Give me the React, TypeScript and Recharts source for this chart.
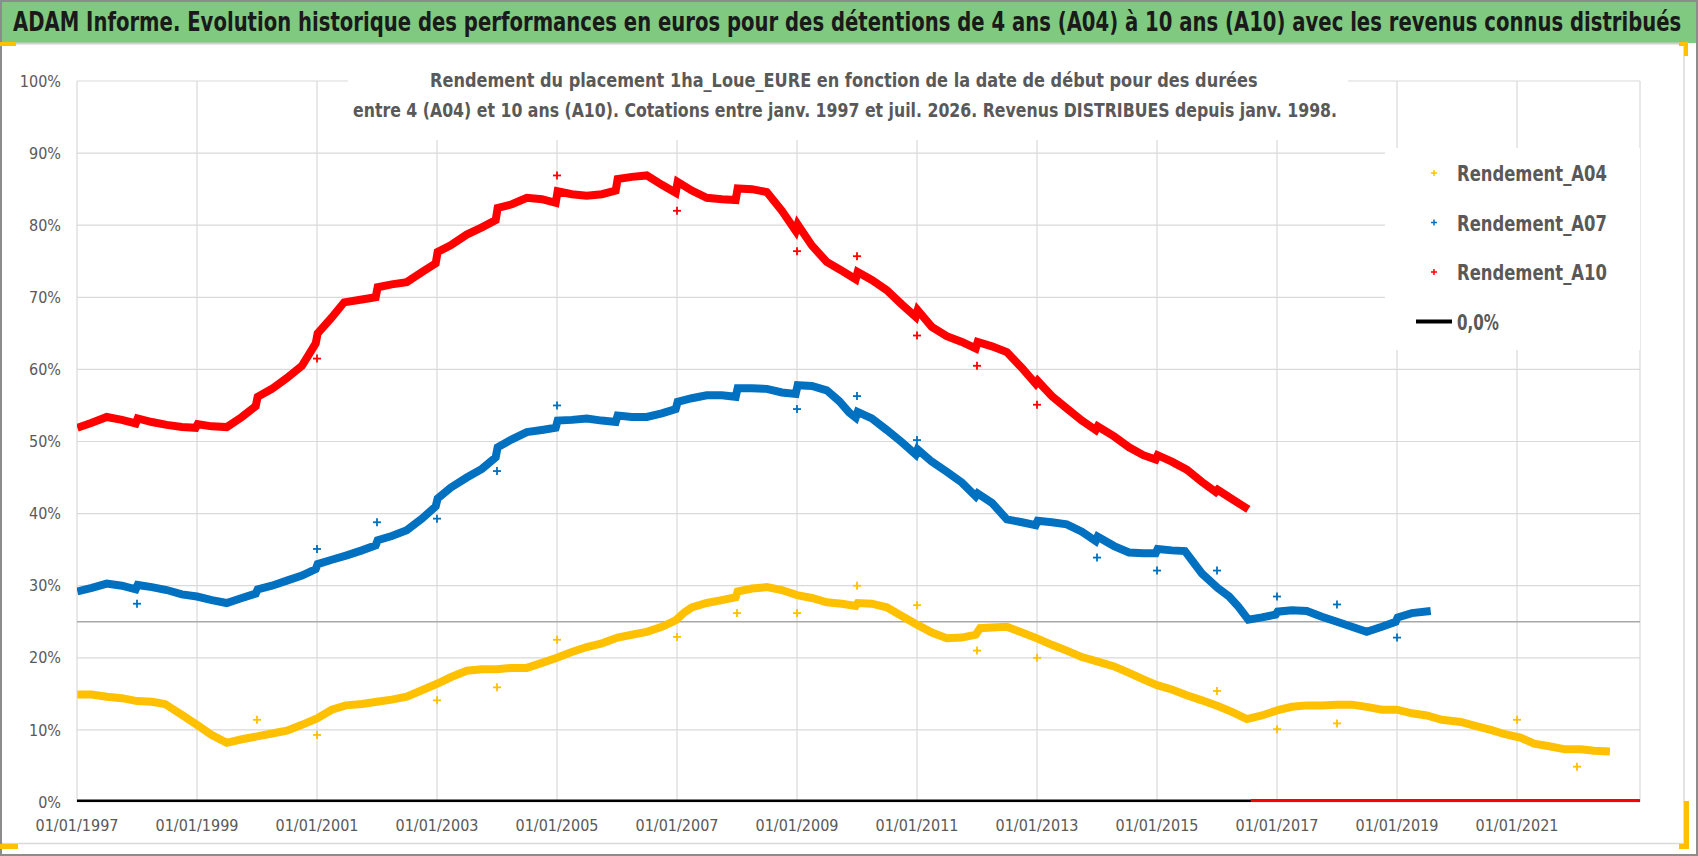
import React, { useLayoutEffect, useRef, useState } from 'react'
import {
  ComposedChart,
  Line,
  Scatter,
  XAxis,
  YAxis,
  CartesianGrid,
  ReferenceLine,
  Legend,
} from 'recharts'

type Row = [string, number]

// x-axis tick labels (one every two years) and y-axis ticks in %
const xTickLabels = [
  '01/01/1997', '01/01/1999', '01/01/2001', '01/01/2003', '01/01/2005', '01/01/2007', '01/01/2009',
  '01/01/2011', '01/01/2013', '01/01/2015', '01/01/2017', '01/01/2019', '01/01/2021',
]
const yTicks = [0, 10, 20, 30, 40, 50, 60, 70, 80, 90, 100]

// Rendement_A04 (yellow band)
const a04: Row[] = [
  ['1997-01-03', 14.9], ['1997-04-01', 14.9], ['1997-07-01', 14.6], ['1997-10-01', 14.4],
  ['1998-01-01', 14.0], ['1998-04-01', 13.9], ['1998-06-20', 13.6], ['1998-10-01', 12.1],
  ['1999-01-01', 10.7], ['1999-04-01', 9.3], ['1999-07-01', 8.2], ['1999-10-01', 8.7],
  ['2000-01-01', 9.1], ['2000-04-01', 9.5], ['2000-07-01', 9.9], ['2000-10-01', 10.7],
  ['2001-01-01', 11.6], ['2001-04-01', 12.8], ['2001-06-25', 13.4], ['2001-10-01', 13.6],
  ['2002-01-01', 13.9], ['2002-04-01', 14.2], ['2002-07-01', 14.6], ['2002-10-01', 15.5],
  ['2003-01-01', 16.4], ['2003-03-25', 17.3], ['2003-07-01', 18.2], ['2003-10-01', 18.4],
  ['2004-01-01', 18.4], ['2004-04-01', 18.6], ['2004-07-01', 18.6], ['2004-10-01', 19.3],
  ['2005-01-01', 20.0], ['2005-04-01', 20.8], ['2005-07-01', 21.5], ['2005-10-01', 22.0],
  ['2006-01-05', 22.8], ['2006-04-01', 23.2], ['2006-07-01', 23.6], ['2006-10-01', 24.3],
  ['2006-12-24', 25.2], ['2007-02-15', 26.3], ['2007-04-01', 27.0], ['2007-07-01', 27.6],
  ['2007-10-01', 28.0], ['2007-12-24', 28.4], ['2008-01-05', 29.2], ['2008-04-01', 29.6],
  ['2008-07-01', 29.8], ['2008-10-01', 29.4], ['2009-01-01', 28.7], ['2009-04-01', 28.3],
  ['2009-07-01', 27.7], ['2009-10-01', 27.5], ['2009-12-24', 27.2], ['2010-01-05', 27.6],
  ['2010-04-01', 27.5], ['2010-07-01', 27.0], ['2010-10-01', 25.8], ['2011-01-01', 24.6],
  ['2011-04-01', 23.5], ['2011-07-01', 22.7], ['2011-10-01', 22.8], ['2011-12-24', 23.2],
  ['2012-01-20', 24.1], ['2012-04-01', 24.2], ['2012-07-01', 24.3], ['2012-10-01', 23.5],
  ['2013-01-01', 22.7], ['2013-04-01', 21.8], ['2013-07-01', 21.0], ['2013-10-01', 20.1],
  ['2014-01-01', 19.5], ['2014-04-15', 18.8], ['2014-07-15', 17.9], ['2014-10-10', 17.0],
  ['2015-01-01', 16.2], ['2015-04-01', 15.6], ['2015-07-01', 14.8], ['2015-10-01', 14.1],
  ['2016-01-05', 13.3], ['2016-04-01', 12.5], ['2016-07-01', 11.5], ['2016-10-01', 12.0],
  ['2017-01-01', 12.7], ['2017-04-01', 13.2], ['2017-07-01', 13.4], ['2017-10-01', 13.4],
  ['2018-01-01', 13.5], ['2018-04-01', 13.5], ['2018-07-01', 13.2], ['2018-10-01', 12.8],
  ['2019-01-01', 12.8], ['2019-04-01', 12.3], ['2019-07-01', 12.0], ['2019-10-01', 11.4],
  ['2020-01-25', 11.1], ['2020-04-15', 10.6], ['2020-07-25', 10.0], ['2020-10-20', 9.4],
  ['2021-01-25', 8.9], ['2021-04-15', 8.1], ['2021-07-25', 7.7], ['2021-10-20', 7.3],
  ['2022-01-25', 7.3], ['2022-04-15', 7.1], ['2022-07-20', 7.0],
]

// Rendement_A07 (blue band)
const a07: Row[] = [
  ['1997-01-03', 29.2], ['1997-04-01', 29.7], ['1997-07-01', 30.3], ['1997-10-01', 30.0],
  ['1997-12-24', 29.5], ['1998-01-05', 30.1], ['1998-04-01', 29.8], ['1998-07-01', 29.4],
  ['1998-10-01', 28.8], ['1999-01-01', 28.5], ['1999-04-01', 28.0], ['1999-07-01', 27.6],
  ['1999-10-01', 28.3], ['1999-12-24', 28.9], ['2000-01-05', 29.5], ['2000-04-01', 30.0],
  ['2000-07-01', 30.7], ['2000-10-01', 31.4], ['2000-12-24', 32.3], ['2001-01-05', 33.0],
  ['2001-04-01', 33.6], ['2001-07-01', 34.2], ['2001-10-01', 34.9], ['2001-12-24', 35.6],
  ['2002-01-05', 36.3], ['2002-04-01', 36.9], ['2002-07-01', 37.7], ['2002-10-01', 39.3],
  ['2002-12-24', 41.0], ['2003-01-05', 42.1], ['2003-03-25', 43.6], ['2003-07-01', 45.0],
  ['2003-10-01', 46.2], ['2003-12-24', 47.8], ['2004-01-05', 49.2], ['2004-04-01', 50.3],
  ['2004-07-01', 51.3], ['2004-10-01', 51.6], ['2004-12-24', 51.9], ['2005-01-05', 52.9],
  ['2005-04-01', 53.0], ['2005-07-01', 53.2], ['2005-10-01', 52.9], ['2005-12-24', 52.7],
  ['2006-01-05', 53.6], ['2006-04-01', 53.4], ['2006-07-01', 53.4], ['2006-10-01', 53.9],
  ['2006-12-24', 54.5], ['2007-01-05', 55.5], ['2007-04-01', 56.0], ['2007-07-01', 56.4],
  ['2007-10-01', 56.4], ['2007-12-24', 56.2], ['2008-01-05', 57.4], ['2008-04-01', 57.4],
  ['2008-07-01', 57.3], ['2008-10-01', 56.8], ['2008-12-24', 56.6], ['2009-01-05', 57.8],
  ['2009-04-01', 57.7], ['2009-07-01', 57.1], ['2009-09-15', 55.6], ['2009-11-15', 54.0],
  ['2009-12-24', 53.3], ['2010-01-05', 54.1], ['2010-04-01', 53.2], ['2010-07-01', 51.6],
  ['2010-10-01', 49.9], ['2010-12-24', 48.2], ['2011-01-05', 48.9], ['2011-04-01', 47.2],
  ['2011-07-01', 45.8], ['2011-10-01', 44.3], ['2011-12-24', 42.4], ['2012-01-05', 42.8],
  ['2012-04-01', 41.5], ['2012-07-01', 39.2], ['2012-10-01', 38.8], ['2012-12-24', 38.4],
  ['2013-01-05', 39.0], ['2013-04-01', 38.8], ['2013-07-01', 38.5], ['2013-10-01', 37.5],
  ['2013-12-24', 36.2], ['2014-01-05', 36.8], ['2014-04-15', 35.5], ['2014-07-15', 34.6],
  ['2014-10-10', 34.5], ['2014-12-24', 34.5], ['2015-01-05', 35.1], ['2015-04-01', 34.9],
  ['2015-06-20', 34.8], ['2015-10-01', 31.7], ['2016-01-05', 29.7], ['2016-03-15', 28.5],
  ['2016-05-10', 27.1], ['2016-07-10', 25.3], ['2016-10-01', 25.6], ['2016-12-24', 26.0],
  ['2017-01-05', 26.4], ['2017-04-01', 26.6], ['2017-07-01', 26.5], ['2017-10-01', 25.7],
  ['2018-01-01', 25.0], ['2018-04-01', 24.3], ['2018-07-01', 23.6], ['2018-10-01', 24.3],
  ['2018-12-24', 25.0], ['2019-01-05', 25.6], ['2019-04-01', 26.2], ['2019-07-25', 26.5],
]

// Rendement_A10 (red band)
const a10: Row[] = [
  ['1997-01-03', 51.9], ['1997-04-01', 52.6], ['1997-07-01', 53.4], ['1997-10-01', 53.0],
  ['1997-12-24', 52.5], ['1998-01-05', 53.2], ['1998-04-01', 52.7], ['1998-07-01', 52.3],
  ['1998-10-01', 52.0], ['1998-12-24', 51.9], ['1999-01-05', 52.4], ['1999-04-01', 52.1],
  ['1999-07-01', 52.0], ['1999-10-01', 53.4], ['1999-12-24', 54.9], ['2000-01-05', 56.2],
  ['2000-04-01', 57.3], ['2000-07-01', 58.8], ['2000-10-01', 60.5], ['2000-12-24', 63.6],
  ['2001-01-05', 65.0], ['2001-04-01', 67.2], ['2001-06-15', 69.3], ['2001-10-01', 69.7],
  ['2001-12-24', 70.0], ['2002-01-05', 71.4], ['2002-04-01', 71.8], ['2002-07-01', 72.1],
  ['2002-10-01', 73.5], ['2002-12-24', 74.7], ['2003-01-05', 76.3], ['2003-03-25', 77.2],
  ['2003-07-01', 78.7], ['2003-10-01', 79.7], ['2003-12-24', 80.7], ['2004-01-05', 82.4],
  ['2004-04-01', 82.9], ['2004-07-01', 83.8], ['2004-10-01', 83.6], ['2004-12-24', 83.1],
  ['2005-01-05', 84.7], ['2005-04-01', 84.3], ['2005-07-01', 84.1], ['2005-10-01', 84.3],
  ['2005-12-24', 84.8], ['2006-01-05', 86.4], ['2006-04-01', 86.7], ['2006-07-01', 86.9],
  ['2006-10-01', 85.6], ['2006-12-24', 84.5], ['2007-01-05', 86.0], ['2007-04-01', 84.8],
  ['2007-07-01', 83.8], ['2007-10-01', 83.6], ['2007-12-24', 83.5], ['2008-01-05', 85.1],
  ['2008-04-01', 85.0], ['2008-07-01', 84.6], ['2008-10-01', 82.0], ['2008-12-24', 79.2],
  ['2009-01-05', 80.1], ['2009-04-01', 77.2], ['2009-07-01', 74.9], ['2009-09-15', 73.9],
  ['2009-12-24', 72.5], ['2010-01-05', 73.5], ['2010-04-01', 72.4], ['2010-07-01', 71.0],
  ['2010-10-01', 69.0], ['2010-12-24', 67.3], ['2011-01-05', 68.2], ['2011-04-01', 65.9],
  ['2011-07-01', 64.6], ['2011-10-01', 63.8], ['2011-12-24', 62.9], ['2012-01-05', 63.8],
  ['2012-04-01', 63.2], ['2012-07-01', 62.4], ['2012-10-01', 60.2], ['2012-12-24', 58.0],
  ['2013-01-05', 58.4], ['2013-04-01', 56.3], ['2013-07-01', 54.6], ['2013-10-01', 52.9],
  ['2013-12-24', 51.6], ['2014-01-05', 52.1], ['2014-04-15', 50.7], ['2014-07-15', 49.2],
  ['2014-10-10', 48.1], ['2014-12-24', 47.5], ['2015-01-05', 48.1], ['2015-04-01', 47.2],
  ['2015-07-01', 46.1], ['2015-10-01', 44.4], ['2015-12-24', 43.0], ['2016-01-05', 43.3],
  ['2016-05-01', 41.6], ['2016-07-10', 40.6],
]

// isolated points on distribution dates
const a04Outliers: Row[] = [
  ['2000-01-01', 11.4], ['2001-01-01', 9.3], ['2003-01-01', 14.1], ['2004-01-01', 15.9],
  ['2005-01-01', 22.5], ['2007-01-01', 22.9], ['2008-01-01', 26.2], ['2009-01-01', 26.2],
  ['2010-01-01', 30.0], ['2011-01-01', 27.3], ['2012-01-01', 21.0], ['2013-01-01', 20.0],
  ['2016-01-01', 15.4], ['2017-01-01', 10.1], ['2018-01-01', 10.9], ['2021-01-01', 11.4],
  ['2022-01-01', 4.9],
]
const a07Outliers: Row[] = [
  ['1998-01-01', 27.5], ['2001-01-01', 35.1], ['2002-01-01', 38.8], ['2003-01-01', 39.3],
  ['2004-01-01', 45.9], ['2005-01-01', 55.0], ['2009-01-01', 54.5], ['2010-01-01', 56.3],
  ['2011-01-01', 50.2], ['2014-01-01', 33.9], ['2015-01-01', 32.1], ['2016-01-01', 32.1],
  ['2017-01-01', 28.5], ['2018-01-01', 27.4], ['2019-01-01', 22.8],
]
const a10Outliers: Row[] = [
  ['2001-01-01', 61.5], ['2005-01-01', 86.9], ['2007-01-01', 82.0], ['2009-01-01', 76.4],
  ['2010-01-01', 75.7], ['2011-01-01', 64.7], ['2012-01-01', 60.5], ['2013-01-01', 55.1],
]

// A10 has no value after mid-2016: plotted at 0
const a10Tail: Row[] = [['2016-07-25', 0], ['2023-01-18', 0]]
// "0,0%" reference series
const zeroLine: Row[] = [['1997-01-01', 0], ['2023-01-18', 0]]

const legendItems = [
  { name: 'Rendement_A04', color: '#ffc000', kind: 'plus' },
  { name: 'Rendement_A07', color: '#0070c0', kind: 'plus' },
  { name: 'Rendement_A10', color: '#ff0000', kind: 'plus' },
  { name: '0,0%', color: '#000000', kind: 'line' },
]

const mainTitle =
  'ADAM Informe. Evolution historique des performances en euros pour des détentions de 4 ans (A04) à 10 ans (A10) avec les revenus connus distribués'
const subTitle1 = 'Rendement du placement 1ha_Loue_EURE en fonction de la date de début pour des durées'
const subTitle2 =
  'entre 4 (A04) et 10 ans (A10). Cotations entre janv. 1997 et juil. 2026. Revenus DISTRIBUES depuis janv. 1998.'

const FONT = "'Liberation Sans Narrow', 'DejaVu Sans Condensed', 'Liberation Sans', sans-serif"
const GREY = '#595959'

function toYear(s: string): number {
  const [y, m, d] = s.split('-').map(Number)
  const start = Date.UTC(y, 0, 1)
  const end = Date.UTC(y + 1, 0, 1)
  return y + (Date.UTC(y, m - 1, d) - start) / (end - start)
}

const toPoints = (rows: Row[]) => rows.map(([d, v]) => ({ t: toYear(d), v }))

const xTicks = xTickLabels.map((l) => Number(l.slice(6)))

// svg text squeezed horizontally so that it spans exactly `width` px
function FitText({ x, y, width, size, fill, children }: any) {
  const ref = useRef<SVGTextElement>(null)
  const [sx, setSx] = useState(1)
  useLayoutEffect(() => {
    if (ref.current) {
      const w = ref.current.getComputedTextLength()
      if (w > 0) setSx(width / w)
    }
  }, [width, children])
  return (
    <text
      ref={ref}
      x={0}
      y={0}
      transform={`translate(${x},${y}) scale(${sx},1)`}
      fontFamily={FONT}
      fontWeight="bold"
      fontSize={size}
      fill={fill}
    >
      {children}
    </text>
  )
}

const Plus = (props: any) => {
  const { cx, cy, fill } = props
  if (cx == null || cy == null) return null
  return (
    <g stroke={fill} strokeWidth={1.8}>
      <line x1={cx - 4} y1={cy} x2={cx + 4} y2={cy} />
      <line x1={cx} y1={cy - 4} x2={cx} y2={cy + 4} />
    </g>
  )
}

const LegendBox = () => (
  <svg width={255} height={202} style={{ display: 'block', background: '#fff' }}>
    {legendItems.map((it, i) => {
      const y = 25 + i * 49.5
      return (
        <g key={it.name}>
          {it.kind === 'plus' ? (
            <g stroke={it.color} strokeWidth={1.5}>
              <line x1={46} y1={y} x2={52} y2={y} />
              <line x1={49} y1={y - 3} x2={49} y2={y + 3} />
            </g>
          ) : (
            <line x1={31} y1={y} x2={67} y2={y} stroke={it.color} strokeWidth={4} />
          )}
          <FitText x={72} y={y + 8} width={it.kind === 'plus' ? 150 : 42} size={22} fill={GREY}>
            {it.name}
          </FitText>
        </g>
      )
    })}
  </svg>
)

export default function App() {
  const tickStyle = { fontSize: 16, fill: GREY, fontFamily: FONT }
  return (
    <div style={{ position: 'absolute', left: 0, top: 0, width: 1698, height: 856, background: '#fff' }}>
      {/* frame, green banner and selection marks */}
      <svg width={1698} height={856} style={{ position: 'absolute', left: 0, top: 0 }}>
        <rect x={0} y={0} width={1698} height={43} fill="#80c980" />
        <line x1={0} y1={43.5} x2={1684} y2={43.5} stroke="#d0d0d0" strokeWidth={2} />
        <line x1={1684} y1={43} x2={1684} y2={843} stroke="#d9d9d9" strokeWidth={1.5} />
        <line x1={0} y1={843.5} x2={1684} y2={843.5} stroke="#d9d9d9" strokeWidth={1.5} />
        <rect x={1} y={1} width={1696} height={854} fill="none" stroke="#8c8c8c" strokeWidth={2} />
        <FitText x={13} y={31} width={1669} size={26} fill="#1a1a1a">
          {mainTitle}
        </FitText>
        <g fill="#ffc000">
          <rect x={0} y={42} width={16} height={4} />
          <rect x={1679} y={42} width={9} height={4} />
          <rect x={1684} y={42} width={4} height={14} />
          <rect x={1684} y={801} width={5} height={48} />
          <rect x={1679} y={844} width={10} height={5} />
          <rect x={0} y={844} width={18} height={5} />
        </g>
      </svg>

      <div style={{ position: 'absolute', left: 0, top: 0 }}>
        <ComposedChart width={1698} height={856} margin={{ top: 81, right: 58, bottom: 24, left: 17 }}>
          <CartesianGrid stroke="#d9d9d9" strokeWidth={1.2} />
          <XAxis
            dataKey="t"
            type="number"
            domain={[1997, 2023.05]}
            ticks={xTicks}
            tickFormatter={(v: number) => `01/01/${v}`}
            tick={tickStyle}
            tickLine={false}
            axisLine={false}
            tickSize={0}
            tickMargin={18}
            height={30}
            allowDataOverflow
          />
          <YAxis
            dataKey="v"
            type="number"
            domain={[0, 100]}
            ticks={yTicks}
            tickFormatter={(v: number) => `${v}%`}
            tick={tickStyle}
            tickLine={false}
            axisLine={false}
            tickSize={0}
            tickMargin={16}
            width={60}
            allowDataOverflow
          />
          <ReferenceLine y={25} stroke="#a8a8a8" strokeWidth={1.6} />
          <Legend
            layout="vertical"
            align="center"
            verticalAlign="middle"
            wrapperStyle={{ left: 1385, top: 148, width: 255, height: 202 }}
            content={() => <LegendBox />}
          />
          <Line data={toPoints(zeroLine)} dataKey="v" name="0,0%" stroke="#000" strokeWidth={5} dot={false} isAnimationActive={false} />
          <Line data={toPoints(a04)} dataKey="v" name="Rendement_A04" stroke="#ffc000" strokeWidth={8} dot={false} isAnimationActive={false} />
          <Line data={toPoints(a07)} dataKey="v" name="Rendement_A07" stroke="#0070c0" strokeWidth={8} dot={false} isAnimationActive={false} />
          <Line data={toPoints(a10)} dataKey="v" name="Rendement_A10" stroke="#ff0000" strokeWidth={8} dot={false} isAnimationActive={false} />
          <Line data={toPoints(a10Tail)} dataKey="v" stroke="#ff0000" strokeWidth={6} dot={false} legendType="none" isAnimationActive={false} />
          <Scatter data={toPoints(a04Outliers)} dataKey="v" fill="#ffc000" shape={<Plus />} legendType="none" isAnimationActive={false} />
          <Scatter data={toPoints(a07Outliers)} dataKey="v" fill="#0070c0" shape={<Plus />} legendType="none" isAnimationActive={false} />
          <Scatter data={toPoints(a10Outliers)} dataKey="v" fill="#ff0000" shape={<Plus />} legendType="none" isAnimationActive={false} />
        </ComposedChart>
      </div>

      {/* chart title box */}
      <svg width={1698} height={140} style={{ position: 'absolute', left: 0, top: 0, pointerEvents: 'none' }}>
        <rect x={348} y={64} width={1000} height={76} fill="#fff" />
        <FitText x={430} y={87} width={828} size={20} fill={GREY}>
          {subTitle1}
        </FitText>
        <FitText x={353} y={117} width={985} size={20} fill={GREY}>
          {subTitle2}
        </FitText>
      </svg>
    </div>
  )
}
